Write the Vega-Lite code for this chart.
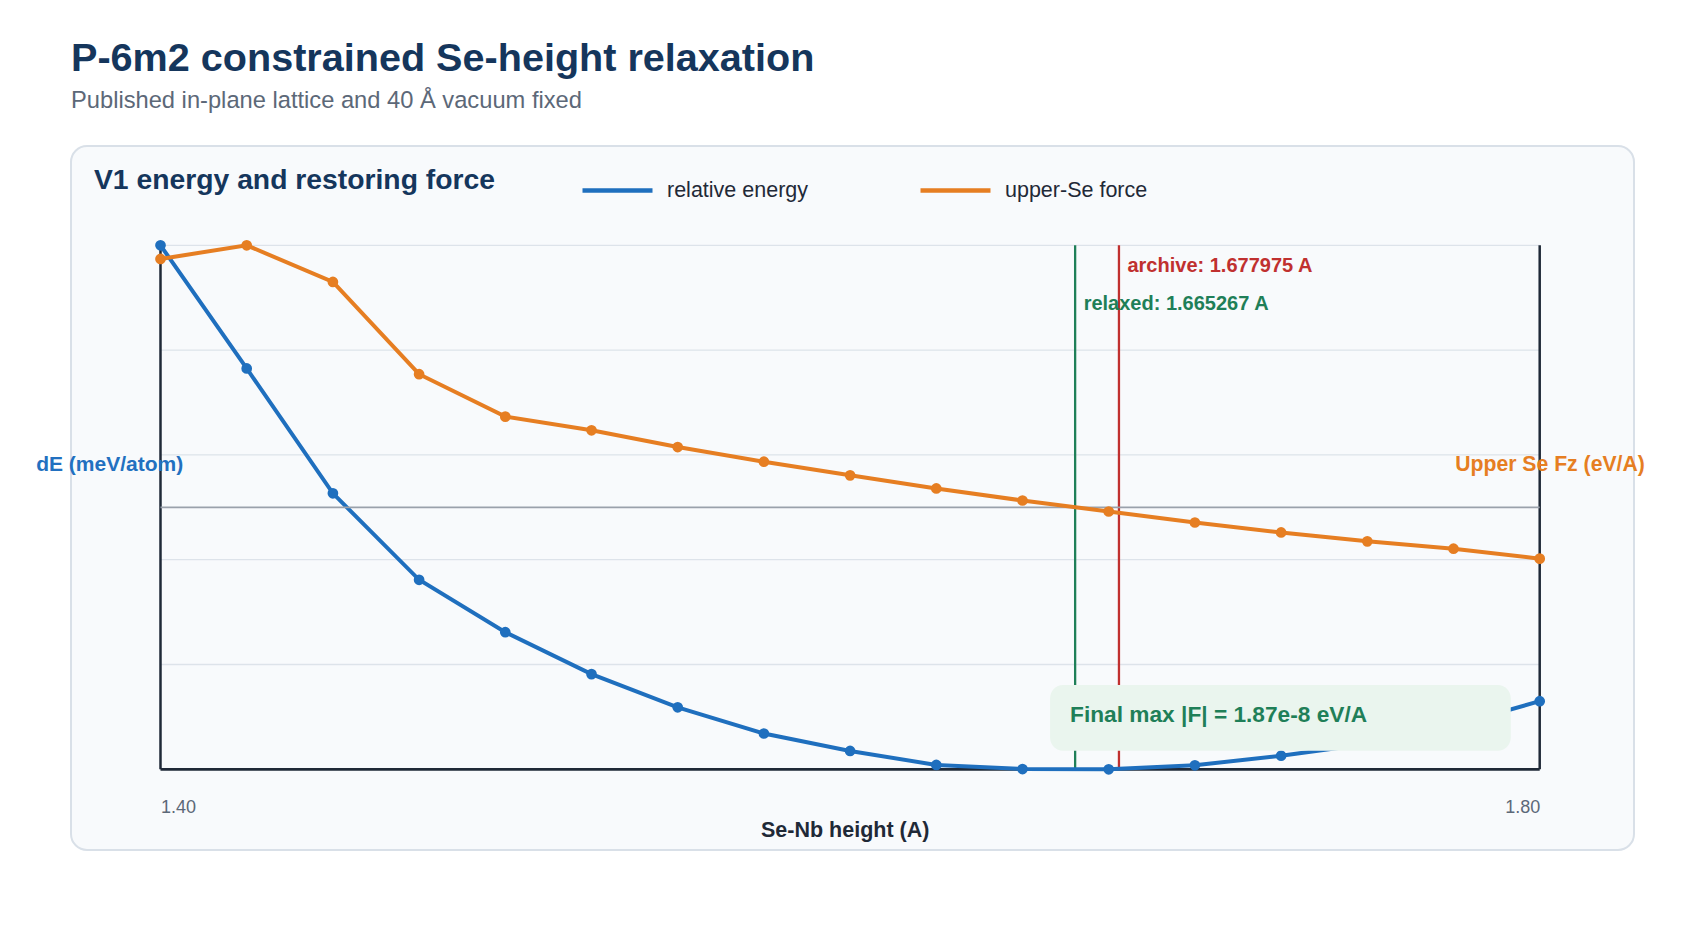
{
  "$schema": "https://vega.github.io/schema/vega-lite/v6.json",
  "width": 1563,
  "height": 704,
  "autosize": {"type": "none"},
  "padding": {"left": 71, "top": 146, "right": 66, "bottom": 90},
  "background": "#ffffff",
  "title": {
    "text": "P-6m2 constrained Se-height relaxation",
    "subtitle": "Published in-plane lattice and 40 Å vacuum fixed",
    "anchor": "start",
    "frame": "group",
    "fontSize": 39.6,
    "fontWeight": "bold",
    "color": "#15365c",
    "subtitleFontSize": 23.7,
    "subtitleColor": "#5c6878",
    "subtitlePadding": 10,
    "offset": 32
  },
  "datasets": {
    "scan": [
      {"h": 1.400, "dE": 60.0, "Fz": 0.474},
      {"h": 1.425, "dE": 45.9, "Fz": 0.500},
      {"h": 1.450, "dE": 31.6, "Fz": 0.430},
      {"h": 1.475, "dE": 21.7, "Fz": 0.254},
      {"h": 1.500, "dE": 15.7, "Fz": 0.173},
      {"h": 1.525, "dE": 10.9, "Fz": 0.147},
      {"h": 1.550, "dE": 7.1, "Fz": 0.115},
      {"h": 1.575, "dE": 4.1, "Fz": 0.087},
      {"h": 1.600, "dE": 2.1, "Fz": 0.061},
      {"h": 1.625, "dE": 0.5, "Fz": 0.036},
      {"h": 1.650, "dE": 0.03, "Fz": 0.013},
      {"h": 1.675, "dE": 0.0, "Fz": -0.008},
      {"h": 1.700, "dE": 0.46, "Fz": -0.029},
      {"h": 1.725, "dE": 1.56, "Fz": -0.048},
      {"h": 1.750, "dE": 2.9, "Fz": -0.065},
      {"h": 1.775, "dE": 5.0, "Fz": -0.079},
      {"h": 1.800, "dE": 7.8, "Fz": -0.098}
    ],
    "heights": [
      {"kind": "relaxed", "h": 1.665267, "label": "relaxed: 1.665267 A"},
      {"kind": "archive", "h": 1.677975, "label": "archive: 1.677975 A"}
    ],
    "note": [{"note": "Final max |F| = 1.87e-8 eV/A"}],
    "grid": [{"e": 0}, {"e": 12}, {"e": 24}, {"e": 36}, {"e": 48}, {"e": 60}],
    "edges": [{"h": 1.4}, {"h": 1.8}]
  },
  "layer": [
    {
      "layer": [
        {
          "data": {"name": "grid"},
          "mark": {"type": "rule", "color": "#dde3ea", "strokeWidth": 1.3},
          "encoding": {
            "x": {"datum": 1.4, "type": "quantitative"},
            "x2": {"datum": 1.8},
            "y": {"field": "e", "type": "quantitative",
                  "scale": {"domain": [-9.24, 71.37], "nice": false, "zero": false}}
          }
        },
        {
          "data": {"name": "edges"},
          "mark": {"type": "rule", "color": "#1f2937", "strokeWidth": 2.5},
          "encoding": {
            "x": {"field": "h", "type": "quantitative",
                  "scale": {"domain": [1.374043, 1.827349], "nice": false, "zero": false}},
            "y": {"datum": 0, "type": "quantitative"},
            "y2": {"datum": 60}
          }
        },
        {
          "data": {"values": [{}]},
          "mark": {"type": "rule", "color": "#1f2937", "strokeWidth": 2.7},
          "encoding": {
            "x": {"datum": 1.4, "type": "quantitative"},
            "x2": {"datum": 1.8},
            "y": {"datum": 0, "type": "quantitative"}
          }
        },
        {
          "data": {"name": "heights"},
          "mark": {"type": "rule", "strokeWidth": 2.3},
          "encoding": {
            "x": {"field": "h", "type": "quantitative"},
            "y": {"datum": 0, "type": "quantitative"},
            "y2": {"datum": 60},
            "color": {"condition": {"test": "datum.kind === 'archive'", "value": "#c0302f"}, "value": "#1f7f58"}
          }
        },
        {
          "data": {"name": "scan"},
          "mark": {"type": "line", "strokeWidth": 4, "point": {"filled": true, "size": 115, "opacity": 1}},
          "encoding": {
            "x": {
              "field": "h", "type": "quantitative",
              "scale": {"domain": [1.374043, 1.827349], "nice": false, "zero": false},
              "axis": {
                "orient": "bottom", "values": [1.4, 1.8], "format": ".2f", "zindex": 1,
                "offset": -80.7, "domain": false, "ticks": false, "tickSize": 0, "grid": false,
                "labelFontSize": 18, "labelColor": "#5c6878", "labelPadding": 38,
                "labelBaseline": "middle", "labelFlush": false,
                "labelAlign": {"condition": {"test": "datum.value < 1.6", "value": "left"}, "value": "right"},
                "title": "Se-Nb height (A)", "titleFontSize": 21.5, "titleFontWeight": "bold",
                "titleColor": "#1f2937", "titleX": 773.7, "titleY": 61.6,
                "titleBaseline": "middle", "titleAlign": "center"
              }
            },
            "y": {
              "field": "dE", "type": "quantitative",
              "scale": {"domain": [-9.24, 71.37], "nice": false, "zero": false},
              "axis": {
                "orient": "left", "title": "dE (meV/atom)", "labels": false, "ticks": false,
                "domain": false, "grid": false, "titleAngle": 0, "titleAlign": "left", "zindex": 1,
                "titleX": -35.3, "titleY": 318, "titleBaseline": "middle",
                "titleFontSize": 21, "titleFontWeight": "bold", "titleColor": "#2270c0"
              }
            },
            "color": {"datum": "relative energy", "type": "nominal"}
          }
        },
        {
          "data": {"values": [{}]},
          "mark": {"type": "rect", "color": "#eaf5ee", "cornerRadius": 13},
          "encoding": {
            "x": {"datum": 1.658, "type": "quantitative"},
            "x2": {"datum": 1.7916},
            "y": {"datum": 9.65, "type": "quantitative"},
            "y2": {"datum": 2.13}
          }
        },
        {
          "data": {"name": "note"},
          "mark": {"type": "text", "align": "left", "baseline": "middle", "fontSize": 22.7,
                   "fontWeight": "bold", "color": "#1f7f58"},
          "encoding": {
            "x": {"datum": 1.6638, "type": "quantitative"},
            "y": {"datum": 6.2, "type": "quantitative"},
            "text": {"field": "note"}
          }
        },
        {
          "data": {"name": "heights"},
          "transform": [{"filter": "datum.kind === 'archive'"}],
          "mark": {"type": "text", "align": "left", "baseline": "middle", "fontSize": 20,
                   "fontWeight": "bold", "color": "#c0302f", "dx": 8.5, "dy": 21},
          "encoding": {
            "x": {"field": "h", "type": "quantitative"},
            "y": {"datum": 60, "type": "quantitative"},
            "text": {"field": "label"}
          }
        },
        {
          "data": {"name": "heights"},
          "transform": [{"filter": "datum.kind === 'relaxed'"}],
          "mark": {"type": "text", "align": "left", "baseline": "middle", "fontSize": 20,
                   "fontWeight": "bold", "color": "#1f7f58", "dx": 8.5, "dy": 59},
          "encoding": {
            "x": {"field": "h", "type": "quantitative"},
            "y": {"datum": 60, "type": "quantitative"},
            "text": {"field": "label"}
          }
        }
      ]
    },
    {
      "layer": [
        {
          "data": {"values": [{}]},
          "mark": {"type": "rule", "color": "#9aa1ab", "strokeWidth": 1.8},
          "encoding": {
            "x": {"datum": 1.4, "type": "quantitative"},
            "x2": {"datum": 1.8},
            "y": {"datum": 0, "type": "quantitative",
                  "scale": {"domain": [-0.654, 0.6895], "nice": false, "zero": false}}
          }
        },
        {
          "data": {"name": "scan"},
          "mark": {"type": "line", "strokeWidth": 4, "point": {"filled": true, "size": 115, "opacity": 1}},
          "encoding": {
            "x": {
              "field": "h", "type": "quantitative",
              "scale": {"domain": [1.374043, 1.827349], "nice": false, "zero": false},
              "axis": {
                "orient": "top", "title": "V1 energy and restoring force", "labels": false,
                "ticks": false, "domain": false, "grid": false, "titleAlign": "left", "zindex": 1,
                "titleX": 22.5, "titleY": 34.9, "titleBaseline": "middle",
                "titleFontSize": 28.3, "titleFontWeight": "bold", "titleColor": "#15365c"
              }
            },
            "y": {
              "field": "Fz", "type": "quantitative",
              "scale": {"domain": [-0.654, 0.6895], "nice": false, "zero": false},
              "axis": {
                "orient": "right", "title": "Upper Se Fz (eV/A)", "labels": false, "ticks": false,
                "domain": false, "grid": false, "titleAngle": 0, "titleAlign": "right", "zindex": 1,
                "titleX": 10.3, "titleY": 318, "titleBaseline": "middle",
                "titleFontSize": 21.2, "titleFontWeight": "bold", "titleColor": "#e67e22"
              }
            },
            "color": {"datum": "upper-Se force", "type": "nominal"}
          }
        }
      ]
    }
  ],
  "resolve": {"scale": {"y": "independent"}, "axis": {"x": "independent"}},
  "config": {
    "font": "Liberation Sans",
    "view": {"fill": "#f8fafc", "stroke": "#d9e0e8", "strokeWidth": 2, "cornerRadius": 16},
    "range": {"category": ["#1f6fbe", "#e67e22"]},
    "legend": {
      "orient": "none",
      "legendX": 509,
      "legendY": 7,
      "direction": "horizontal",
      "title": null,
      "symbolType": "stroke",
      "symbolSize": 4900,
      "symbolStrokeWidth": 4.7,
      "labelFontSize": 21.5,
      "labelColor": "#1f2937",
      "labelOffset": 12,
      "columnPadding": 102,
      "padding": 0
    }
  }
}
